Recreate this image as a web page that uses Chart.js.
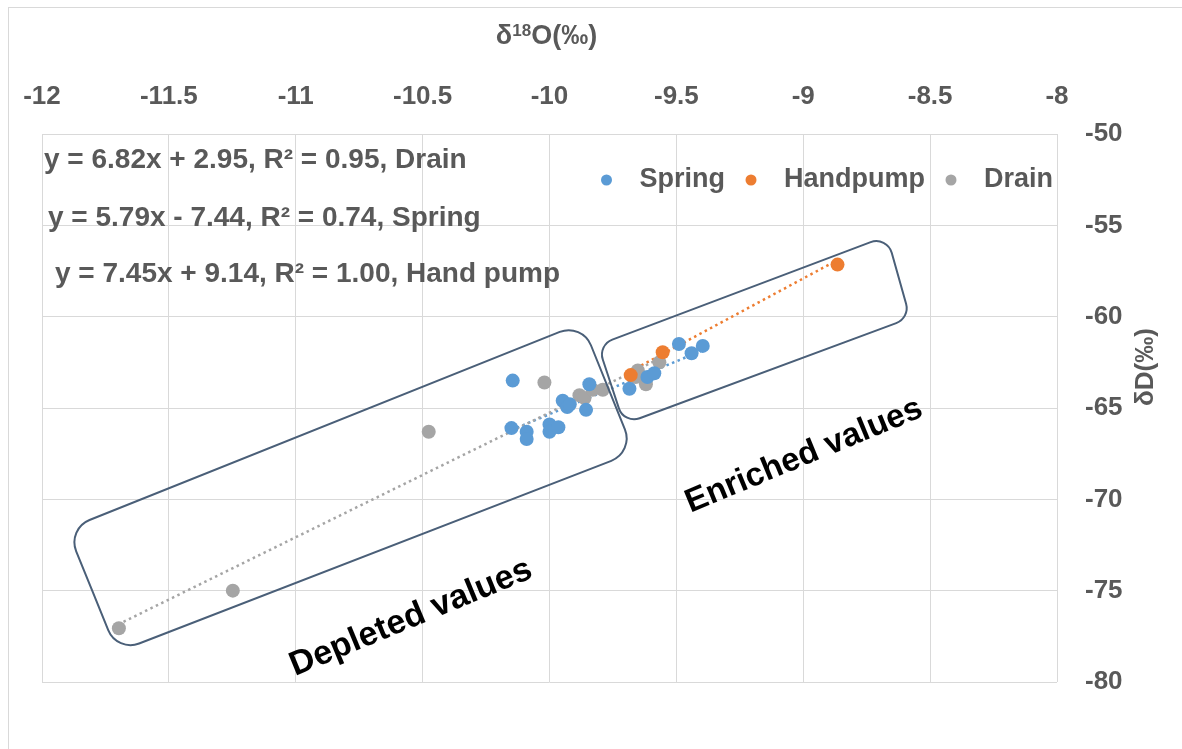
<!DOCTYPE html>
<html>
<head>
<meta charset="utf-8">
<script src="https://cdn.jsdelivr.net/npm/chart.js@4.4.1/dist/chart.umd.min.js"></script>
<style>
  html, body { margin: 0; padding: 0; background: #fff; overflow: hidden; }
  #wrap { position: relative; width: 1182px; height: 749px; }
  #frame { position: absolute; left: 8px; top: 7px; width: 1200px; height: 800px; border: 1px solid #d9d9d9; }
  canvas { position: absolute; left: 0; top: 0; }
</style>
</head>
<body>
<div id="wrap">
  <div id="frame"></div>
  <canvas id="isoChart" width="1182" height="749"></canvas>
</div>
<script>
// delta 18O (x) and delta D (y), per-mille
const springX = [-10.145, -9.843, -9.948, -9.93, -9.856, -9.92, -10.15, -10.09, -10.09, -10.0, -10.0, -9.965,
  -9.685, -9.614, -9.587, -9.49, -9.44, -9.396];
const springY = [-63.5, -63.7, -64.6, -64.95, -65.1, -64.8, -66.1, -66.3, -66.7, -65.9, -66.3, -66.05,
  -63.95, -63.3, -63.1, -61.5, -62.0, -61.6];

const handpumpX = [-9.68, -9.554, -8.865];
const handpumpY = [-63.2, -61.95, -57.15];

const drainX = [-11.697, -11.248, -10.476, -10.02, -9.882, -9.862, -9.83, -9.79, -9.66, -9.652, -9.62, -9.567];
const drainY = [-77.06, -75.0, -66.3, -63.6, -64.3, -64.45, -64.0, -64.0, -63.3, -62.95, -63.7, -62.5];

// dotted linear trend lines (end points)
const drainTrendX = [-11.70, -9.567];
const drainTrendY = [-76.85, -62.3];
const springTrendX = [-10.15, -9.396];
const springTrendY = [-66.21, -61.84];
const handpumpTrendX = [-9.68, -8.865];
const handpumpTrendY = [-62.98, -56.9];

const xTicks = [-12, -11.5, -11, -10.5, -10, -9.5, -9, -8.5, -8];
const yTicks = [-80, -75, -70, -65, -60, -55, -50];

const equationLabels = [
  'y = 6.82x + 2.95, R² = 0.95, Drain',
  'y = 5.79x - 7.44, R² = 0.74, Spring',
  'y = 7.45x + 9.14, R² = 1.00, Hand pump'
];

const toPoints = (xs, ys) => xs.map((v, i) => ({ x: v, y: ys[i] }));

const FONT = '"Liberation Sans", Arial, sans-serif';
const GREY_TEXT = '#595959';
const GRID = '#d9d9d9';

Chart.defaults.font.family = FONT;

// rounded boxes, corners given in axis units
const boxes = [
  { xs: [-11.901, -9.872, -9.667, -11.704], ys: [-71.62, -60.35, -67.41, -78.36], r: 24 },
  { xs: [-9.809, -8.670, -8.579, -9.706], ys: [-61.55, -55.58, -60.07, -65.88], r: 16 }
];
const notes = [
  { text: 'Depleted values', x: -10.546, y: -76.49, size: 34 },
  { text: 'Enriched values', x: -8.997, y: -67.62, size: 33 }
];

function richText(ctx, parts, cx, cy, size) {
  const big = 'bold ' + size + 'px ' + FONT;
  const small = 'bold ' + Math.round(size * 0.64) + 'px ' + FONT;
  let total = 0;
  parts.forEach(p => { ctx.font = p.sup ? small : big; total += ctx.measureText(p.t).width; });
  let px = cx - total / 2;
  parts.forEach(p => {
    ctx.font = p.sup ? small : big;
    ctx.fillText(p.t, px, p.sup ? cy - size * 0.22 : cy);
    px += ctx.measureText(p.t).width;
  });
}

const overlay = {
  id: 'overlay',
  afterDatasetsDraw(chart) {
    const { ctx, scales: { x, y } } = chart;
    boxes.forEach(b => {
      const pts = b.xs.map((v, i) => [x.getPixelForValue(v), y.getPixelForValue(b.ys[i])]);
      const n = pts.length;
      ctx.save();
      ctx.beginPath();
      ctx.moveTo((pts[n - 1][0] + pts[0][0]) / 2, (pts[n - 1][1] + pts[0][1]) / 2);
      for (let i = 0; i < n; i++) {
        const p = pts[i], q = pts[(i + 1) % n];
        ctx.arcTo(p[0], p[1], q[0], q[1], b.r);
      }
      ctx.closePath();
      ctx.strokeStyle = '#4a5f78';
      ctx.lineWidth = 2;
      ctx.stroke();
      ctx.restore();
    });
  },
  afterDraw(chart) {
    const { ctx, chartArea: area, scales: { x, y } } = chart;
    ctx.save();
    ctx.textBaseline = 'middle';
    ctx.fillStyle = GREY_TEXT;

    // axis titles
    richText(ctx, [{ t: 'δ' }, { t: '18', sup: true }, { t: 'O(‰)' }], (area.left + area.right) / 2 - 3, 37, 27);
    ctx.save();
    ctx.translate(1146, 367);
    ctx.rotate(-Math.PI / 2);
    ctx.textAlign = 'center';
    ctx.font = 'bold 26px ' + FONT;
    ctx.fillText('δD(‰)', 0, 0);
    ctx.restore();

    // trend line equations
    ctx.font = 'bold 28px ' + FONT;
    ctx.textAlign = 'left';
    const eqPos = [[2, 26], [6, 84], [13, 140]];
    equationLabels.forEach((t, i) => ctx.fillText(t, area.left + eqPos[i][0], area.top + eqPos[i][1]));

    // legend inside plot area, right aligned
    ctx.font = 'bold 27px ' + FONT;
    const items = chart.data.datasets.filter(d => !d.trend);
    let xr = area.right - 4;
    const yl = area.top + 46;
    for (let i = items.length - 1; i >= 0; i--) {
      const w = ctx.measureText(items[i].label).width;
      const tx = xr - w;
      ctx.fillStyle = GREY_TEXT;
      ctx.fillText(items[i].label, tx, yl);
      const dx = tx - 33;
      ctx.beginPath();
      ctx.arc(dx, yl, 5.5, 0, Math.PI * 2);
      ctx.fillStyle = items[i].backgroundColor;
      ctx.fill();
      xr = dx - 26;
    }

    // rotated notes
    ctx.fillStyle = '#000';
    ctx.textAlign = 'center';
    notes.forEach(nt => {
      ctx.save();
      ctx.translate(x.getPixelForValue(nt.x), y.getPixelForValue(nt.y));
      ctx.rotate(-22.5 * Math.PI / 180);
      ctx.font = 'bold ' + nt.size + 'px ' + FONT;
      ctx.fillText(nt.text, 0, 0);
      ctx.restore();
    });
    ctx.restore();
  }
};

const pointSet = (label, xs, ys, color) => ({
  label: label,
  data: toPoints(xs, ys),
  backgroundColor: color,
  borderColor: color,
  pointRadius: 7,
  pointBorderWidth: 0,
  showLine: false
});
const trendSet = (xs, ys, color) => ({
  trend: true,
  data: toPoints(xs, ys),
  borderColor: color,
  backgroundColor: color,
  borderWidth: 2.5,
  borderDash: [2.5, 3.5],
  pointRadius: 0,
  showLine: true,
  fill: false
});

new Chart(document.getElementById('isoChart'), {
  type: 'scatter',
  data: {
    datasets: [
      pointSet('Spring', springX, springY, '#5b9bd5'),
      pointSet('Handpump', handpumpX, handpumpY, '#ed7d31'),
      pointSet('Drain', drainX, drainY, '#a5a5a5'),
      trendSet(drainTrendX, drainTrendY, '#a5a5a5'),
      trendSet(springTrendX, springTrendY, '#5b9bd5'),
      trendSet(handpumpTrendX, handpumpTrendY, '#ed7d31')
    ]
  },
  options: {
    responsive: false,
    animation: false,
    devicePixelRatio: 1,
    layout: { padding: { left: 42, top: 0, right: 0, bottom: 67 } },
    plugins: { legend: { display: false }, tooltip: { enabled: false } },
    scales: {
      x: {
        type: 'linear',
        position: 'top',
        min: -12,
        max: -8,
        afterBuildTicks: (s) => { s.ticks = xTicks.map(v => ({ value: v })); },
        afterFit: (s) => { s.height = 134; },
        ticks: { color: GREY_TEXT, font: { size: 26, weight: 'bold' }, padding: 22, maxRotation: 0, callback: (v) => String(v) },
        grid: { color: GRID, lineWidth: 1, drawTicks: false },
        border: { display: false }
      },
      y: {
        type: 'linear',
        position: 'right',
        min: -80,
        max: -50,
        afterBuildTicks: (s) => { s.ticks = yTicks.map(v => ({ value: v })); },
        afterFit: (s) => { s.width = 125; },
        ticks: { color: GREY_TEXT, font: { size: 26, weight: 'bold' }, padding: 28, callback: (v) => String(v) },
        grid: { color: GRID, lineWidth: 1, drawTicks: false },
        border: { display: false }
      }
    }
  },
  plugins: [overlay]
});
</script>
</body>
</html>
